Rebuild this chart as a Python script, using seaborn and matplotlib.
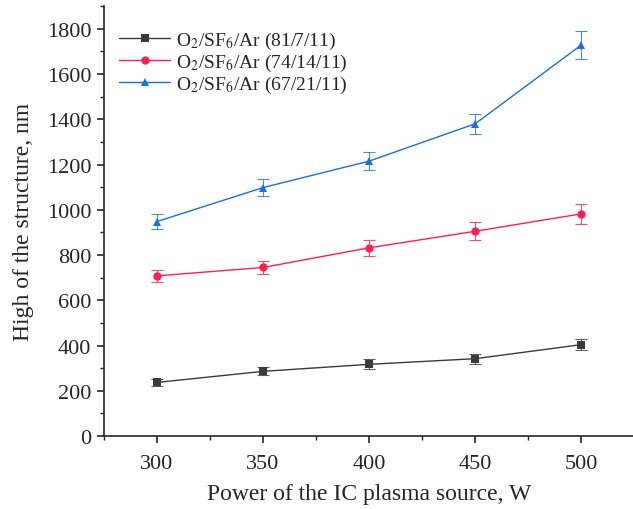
import numpy as np
import pandas as pd
import seaborn as sns
import matplotlib.pyplot as plt
from matplotlib.ticker import MultipleLocator

# data
power = [300, 350, 400, 450, 500]
labels = ['O$_2$/SF$_6$/Ar (81/7/11)', 'O$_2$/SF$_6$/Ar (74/14/11)', 'O$_2$/SF$_6$/Ar (67/21/11)']
h_81 = [237, 286, 317, 342, 404]
h_74 = [708, 745, 832, 905, 982]
h_67 = [948, 1098, 1215, 1380, 1728]
err_81 = [15, 18, 22, 22, 25]
err_74 = [25, 30, 35, 40, 45]
err_67 = [35, 38, 40, 45, 60]

colors = ['#3a3a3a', '#ff2050', '#1a6fe0']
markers = ['s', 'o', '^']

rows = []
for lab, h, e in zip(labels, [h_81, h_74, h_67], [err_81, err_74, err_67]):
    for p, v, ee in zip(power, h, e):
        rows.append({'power': p, 'height': v, 'err': ee, 'series': lab})
df = pd.DataFrame(rows)

sns.set_style('ticks')
plt.rcParams['font.family'] = ['Liberation Serif', 'DejaVu Serif']
plt.rcParams['mathtext.fontset'] = 'stix'

fig = plt.figure(figsize=(6.33, 5.1), dpi=100)
ax = fig.add_axes([0.164, 0.143, 0.838, 0.843])

sns.lineplot(data=df, x='power', y='height', hue='series', style='series',
             palette=colors, markers=markers, dashes=False, linewidth=1.0,
             markersize=6, markeredgewidth=0, ax=ax)

for (lab, sub), c in zip(df.groupby('series', sort=False), colors):
    ax.errorbar(sub['power'], sub['height'], yerr=sub['err'], fmt='none',
                ecolor=c, elinewidth=0.8, capsize=4, capthick=0.8, alpha=0.8)

ax.set_xlim(275, 525)
ax.set_ylim(0, 1900)
ax.xaxis.set_major_locator(MultipleLocator(50))
ax.xaxis.set_minor_locator(MultipleLocator(25))
ax.yaxis.set_major_locator(MultipleLocator(200))
ax.yaxis.set_minor_locator(MultipleLocator(100))
ax.tick_params(axis='both', which='major', labelsize=16, length=5, width=1.2, direction='out')
ax.tick_params(axis='x', which='major', pad=8)
ax.tick_params(axis='y', which='major', pad=4)
ax.tick_params(axis='both', which='minor', length=3, width=1, direction='out')
for s in ['left', 'bottom']:
    ax.spines[s].set_linewidth(1.2)
sns.despine(ax=ax)

ax.set_xlabel('Power of the IC plasma source, W', fontsize=17, labelpad=7)
ax.set_ylabel('High of the structure, nm', fontsize=17, labelpad=9)

leg = ax.legend(loc='upper left', frameon=False, fontsize=14, handlelength=2.6,
                handletextpad=0.3, labelspacing=0.06, borderpad=0.2,
                borderaxespad=0, bbox_to_anchor=(0.022, 0.955))

fig.savefig('out.png', dpi=100)
